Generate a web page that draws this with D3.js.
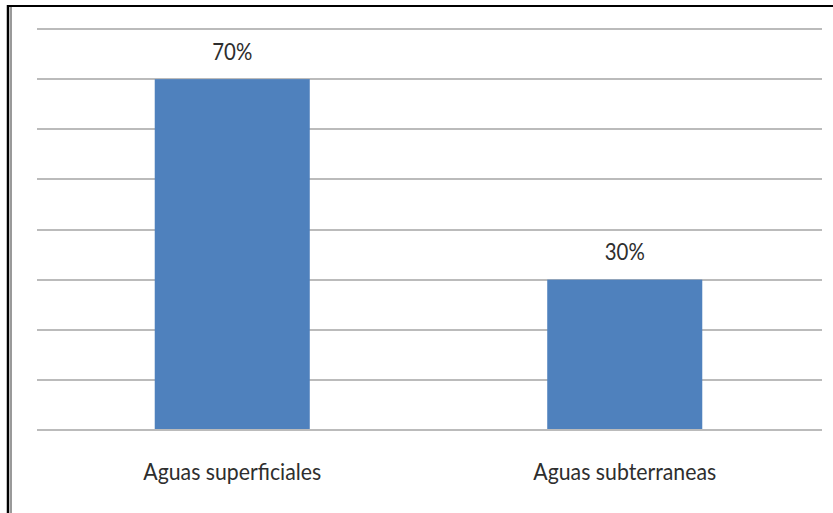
<!DOCTYPE html>
<html>
<head>
<meta charset="utf-8">
<script src="https://cdn.jsdelivr.net/npm/d3@7"></script>
<style>
  body { margin: 0; background: #fff; }
  svg { display: block; }
  text { font-family: Lato, "Open Sans", sans-serif; fill: #2e2e2e; }
</style>
</head>
<body>
<div id="chart"></div>
<script>
const categories = ["Aguas superficiales", "Aguas subterraneas"];
const values = [0.70, 0.30];
const valueLabels = ["70%", "30%"];
const gridTicks = [0, 0.1, 0.2, 0.3, 0.4, 0.5, 0.6, 0.7, 0.8];

const width = 833;
const height = 513;
const margin = {top: 29, right: 12, bottom: 83, left: 36};

const svg = d3.select("#chart")
    .append("svg")
    .attr("width", width)
    .attr("height", height);

// outer frame (only top + left visible, with inner gray line on the left)
svg.append("line")
    .attr("x1", 7).attr("y1", 6).attr("x2", width).attr("y2", 6)
    .attr("stroke", "#000").attr("stroke-width", 2);
svg.append("line")
    .attr("x1", 8).attr("y1", 5).attr("x2", 8).attr("y2", height)
    .attr("stroke", "#000").attr("stroke-width", 2.5);
svg.append("line")
    .attr("x1", 11).attr("y1", 7).attr("x2", 11).attr("y2", height)
    .attr("stroke", "#9a9a9a").attr("stroke-width", 2);

const x = d3.scaleBand()
    .domain(categories)
    .range([margin.left, width - margin.right])
    .padding(0);

const y = d3.scaleLinear()
    .domain([0, 0.8])
    .range([height - margin.bottom, margin.top]);

const barWidth = x.bandwidth() * 0.395;

// gridlines
svg.append("g")
    .selectAll("line")
    .data(gridTicks)
    .enter()
    .append("line")
    .attr("x1", margin.left + 1)
    .attr("x2", width - margin.right + 1)
    .attr("y1", d => Math.round(y(d)))
    .attr("y2", d => Math.round(y(d)))
    .attr("stroke", "#a4a4a4")
    .attr("stroke-width", 1.7);

// bars
svg.append("g")
    .selectAll("rect")
    .data(values)
    .enter()
    .append("rect")
    .attr("x", (d, i) => x(categories[i]) + x.bandwidth() / 2 - barWidth / 2)
    .attr("y", d => y(d))
    .attr("width", barWidth)
    .attr("height", d => y(0) - y(d) - 1)
    .attr("fill", "#4f81bd");

// value labels
svg.append("g")
    .selectAll("text")
    .data(values)
    .enter()
    .append("text")
    .attr("x", (d, i) => x(categories[i]) + x.bandwidth() / 2)
    .attr("y", d => y(d) - 19.5)
    .attr("text-anchor", "middle")
    .attr("font-size", 23)
    .attr("textLength", 40)
    .attr("lengthAdjust", "spacingAndGlyphs")
    .text((d, i) => valueLabels[i]);

// category labels
const catWidths = [178, 183];
svg.append("g")
    .selectAll("text")
    .data(categories)
    .enter()
    .append("text")
    .attr("x", d => x(d) + x.bandwidth() / 2)
    .attr("y", 480)
    .attr("text-anchor", "middle")
    .attr("font-size", 23)
    .attr("textLength", (d, i) => catWidths[i])
    .attr("lengthAdjust", "spacingAndGlyphs")
    .text(d => d);
</script>
</body>
</html>
